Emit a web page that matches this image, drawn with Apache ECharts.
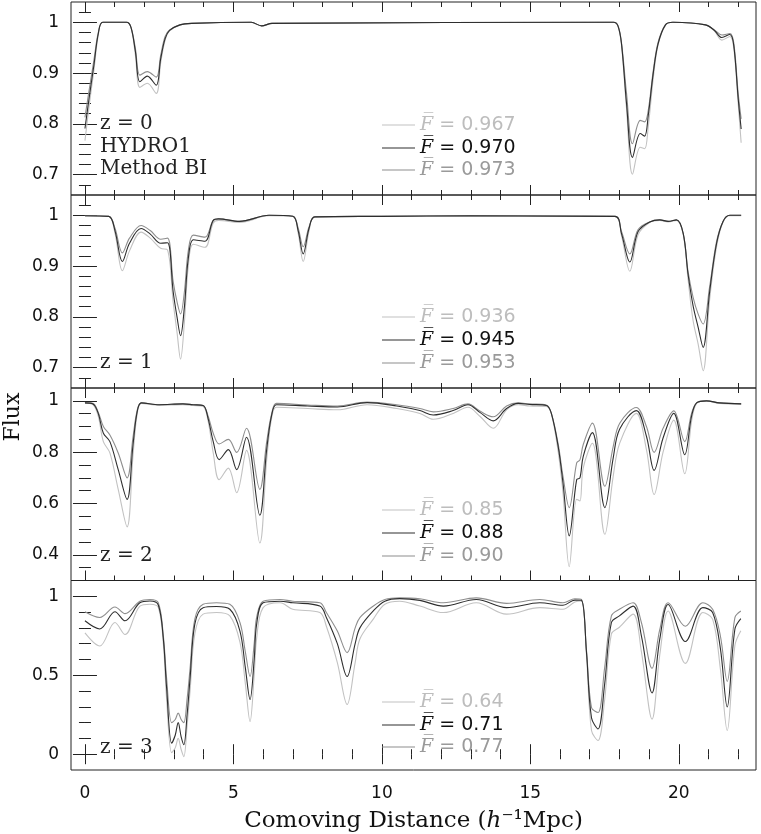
<!DOCTYPE html>
<html><head><meta charset="utf-8">
<script src="https://cdn.jsdelivr.net/npm/echarts@6/dist/echarts.min.js"></script>
<style>html,body{margin:0;padding:0;background:#fff}#c{width:761px;height:834px}</style>
</head><body><div id="c"></div>
<script>
// ---------- DATA ----------
// Panel z=0
const x1 = [0,0.15,0.3,0.45,0.6,1.4,1.55,1.7,1.85,2.1,2.4,2.55,2.7,2.85,3.2,3.6,5.6,5.95,6.3,17.8,17.95,18.07,18.24,18.44,18.7,18.85,18.97,19.14,19.3,19.55,19.8,20.9,21.2,21.45,21.72,21.85,22.0,22.1];
const l1 = [0.767,0.84,0.905,0.975,1.0,1.0,0.99,0.935,0.872,0.880,0.860,0.92,0.965,0.983,0.995,0.998,1.0,0.993,0.998,1.0,0.992,0.955,0.83,0.701,0.754,0.751,0.794,0.89,0.955,0.994,1.0,0.995,0.983,0.965,0.972,0.95,0.84,0.763];
const d1 = [0.791,0.855,0.915,0.978,1.0,1.0,0.99,0.942,0.883,0.894,0.876,0.928,0.968,0.984,0.995,0.998,1.0,0.993,0.998,1.0,0.993,0.958,0.84,0.734,0.781,0.776,0.816,0.9,0.957,0.995,1.0,0.995,0.984,0.97,0.976,0.955,0.85,0.79];
const m1 = [0.813,0.87,0.925,0.98,1.0,1.0,0.99,0.948,0.896,0.903,0.892,0.935,0.972,0.985,0.995,0.998,1.0,0.993,0.998,1.0,0.994,0.96,0.86,0.761,0.807,0.804,0.826,0.905,0.96,0.995,1.0,0.995,0.985,0.975,0.978,0.96,0.86,0.81];
// Panel z=1
const x2 = [0,0.8,1.01,1.26,1.5,1.89,2.2,2.55,2.78,2.97,3.1,3.22,3.35,3.48,3.65,4.04,4.32,4.5,5.2,6.2,7.0,7.18,7.35,7.55,7.74,10,13,17.85,18.07,18.35,18.63,19.02,19.36,19.64,19.92,20.15,20.31,20.48,20.65,20.82,21.04,21.27,21.49,21.72,22.1];
const l2 = [0.999,0.998,0.965,0.891,0.93,0.967,0.955,0.935,0.932,0.83,0.77,0.717,0.79,0.9,0.943,0.937,0.985,0.99,0.986,0.999,0.998,0.965,0.909,0.97,0.997,0.998,0.999,0.998,0.96,0.890,0.962,0.986,0.99,0.987,0.99,0.962,0.875,0.793,0.747,0.694,0.835,0.938,0.987,0.999,0.999];
const d2 = [0.999,0.998,0.97,0.909,0.945,0.974,0.963,0.945,0.946,0.85,0.8,0.763,0.82,0.915,0.952,0.949,0.99,0.993,0.988,1.0,0.998,0.97,0.924,0.975,0.997,0.998,0.999,0.998,0.964,0.908,0.968,0.987,0.991,0.988,0.991,0.964,0.885,0.822,0.780,0.740,0.85,0.944,0.988,1.0,1.0];
const m2 = [0.999,0.998,0.975,0.926,0.955,0.98,0.97,0.953,0.955,0.87,0.83,0.806,0.85,0.93,0.961,0.957,0.99,0.993,0.988,1.0,0.998,0.975,0.938,0.978,0.997,0.998,0.999,0.998,0.968,0.924,0.972,0.987,0.991,0.988,0.991,0.964,0.89,0.839,0.806,0.786,0.86,0.948,0.988,1.0,1.0];
// Panel z=2
const x3 = [0,0.27,0.45,0.62,0.84,1.12,1.42,1.62,1.76,1.9,2.5,3.3,3.64,3.98,4.15,4.32,4.52,4.83,5.11,5.44,5.89,6.12,6.29,6.45,7.5,8.5,9.5,10.5,11.28,11.73,12.4,12.9,13.3,13.75,14.2,14.59,14.98,15.54,15.71,15.94,16.1,16.31,16.56,16.67,16.78,17.09,17.51,17.79,18.01,18.57,18.91,19.17,19.47,19.83,20.2,20.43,20.6,20.93,21.37,22.1];
const l3 = [0.992,0.985,0.94,0.841,0.797,0.655,0.509,0.79,0.95,0.99,0.982,0.985,0.982,0.978,0.92,0.797,0.693,0.738,0.642,0.807,0.446,0.77,0.935,0.975,0.97,0.965,0.985,0.97,0.951,0.928,0.951,0.975,0.94,0.893,0.965,0.985,0.98,0.978,0.948,0.8,0.642,0.354,0.616,0.61,0.738,0.835,0.48,0.706,0.835,0.951,0.81,0.635,0.8,0.925,0.716,0.92,0.99,1.0,0.99,0.988];
const d3 = [0.992,0.988,0.95,0.874,0.841,0.732,0.616,0.83,0.958,0.992,0.985,0.988,0.985,0.982,0.93,0.841,0.771,0.81,0.732,0.858,0.554,0.81,0.945,0.985,0.98,0.976,0.993,0.98,0.962,0.945,0.962,0.985,0.955,0.922,0.97,0.99,0.986,0.982,0.95,0.82,0.68,0.474,0.693,0.7,0.783,0.876,0.584,0.777,0.89,0.962,0.862,0.729,0.855,0.951,0.79,0.94,0.992,1.0,0.992,0.988];
const m3 = [0.992,0.99,0.955,0.9,0.867,0.797,0.7,0.86,0.964,0.992,0.985,0.988,0.985,0.982,0.94,0.874,0.832,0.85,0.799,0.893,0.655,0.84,0.951,0.99,0.984,0.98,0.995,0.985,0.97,0.957,0.97,0.988,0.96,0.938,0.98,0.992,0.988,0.984,0.951,0.83,0.706,0.584,0.758,0.77,0.829,0.913,0.667,0.822,0.913,0.974,0.9,0.799,0.893,0.961,0.841,0.951,0.992,1.0,0.992,0.988];
// Panel z=3
const x4 = [0,0.5,1.01,1.35,1.85,2.19,2.47,2.64,2.75,2.92,3.04,3.14,3.24,3.33,3.44,3.54,3.7,3.98,4.43,4.88,5.22,5.4,5.56,5.7,5.78,6.0,6.57,7.0,7.91,8.13,8.5,8.83,9.1,9.26,9.71,10.1,10.6,11.28,12.07,13.18,14.2,15.32,16.1,16.5,16.72,16.89,17.06,17.28,17.5,17.73,18.0,18.46,18.74,19.1,19.36,19.64,20.22,20.81,21.14,21.4,21.63,21.89,22.09];
const l4 = [0.768,0.685,0.834,0.758,0.938,0.95,0.93,0.7,0.35,0.01,0.04,0.1,0.03,-0.015,0.18,0.4,0.762,0.887,0.897,0.876,0.71,0.45,0.207,0.5,0.73,0.928,0.959,0.918,0.897,0.81,0.58,0.315,0.58,0.73,0.855,0.95,0.969,0.938,0.897,0.959,0.887,0.928,0.918,0.964,0.97,0.63,0.15,0.087,0.34,0.762,0.804,0.887,0.65,0.222,0.63,0.907,0.575,0.897,0.855,0.54,0.15,0.689,0.782];
const d4 = [0.845,0.793,0.902,0.845,0.959,0.97,0.945,0.73,0.42,0.07,0.12,0.2,0.11,0.06,0.25,0.48,0.824,0.928,0.935,0.918,0.78,0.55,0.346,0.6,0.82,0.959,0.969,0.959,0.938,0.866,0.7,0.492,0.7,0.8,0.907,0.969,0.985,0.974,0.938,0.98,0.928,0.959,0.943,0.976,0.975,0.648,0.23,0.16,0.44,0.834,0.876,0.938,0.75,0.388,0.73,0.948,0.714,0.928,0.897,0.67,0.299,0.793,0.859];
const m4 = [0.902,0.866,0.932,0.89,0.969,0.98,0.959,0.75,0.48,0.2,0.22,0.26,0.22,0.2,0.35,0.544,0.855,0.949,0.959,0.949,0.834,0.65,0.492,0.7,0.865,0.969,0.98,0.969,0.959,0.897,0.78,0.643,0.8,0.865,0.938,0.98,0.99,0.984,0.959,0.99,0.955,0.98,0.959,0.984,0.98,0.66,0.295,0.264,0.544,0.876,0.918,0.959,0.834,0.544,0.79,0.959,0.81,0.959,0.918,0.75,0.461,0.865,0.907];

const meanF = [['0.967','0.970','0.973'],['0.936','0.945','0.953'],['0.85','0.88','0.90'],['0.64','0.71','0.77']];
const panelNotes = [['z = 0','HYDRO1','Method BI'],['z = 1'],['z = 2'],['z = 3']];
const xMajor = [0,5,10,15,20];
const xMinor = [1,2,3,4,6,7,8,9,11,12,13,14,16,17,18,19,21,22];
const yRange = [[0.66,1.04],[0.66,1.04],[0.3,1.05],[-0.1,1.1]];
const yMajor = [[0.7,0.8,0.9,1],[0.7,0.8,0.9,1],[0.4,0.6,0.8,1],[0,0.5,1]];
const yMinor = [
  [0.68,0.72,0.74,0.76,0.78,0.82,0.84,0.86,0.88,0.92,0.94,0.96,0.98,1.02],
  [0.68,0.72,0.74,0.76,0.78,0.82,0.84,0.86,0.88,0.92,0.94,0.96,0.98,1.02],
  [0.35,0.45,0.5,0.55,0.65,0.7,0.75,0.85,0.9,0.95],
  [0.1,0.2,0.3,0.4,0.6,0.7,0.8,0.9]
];
const xTitleParts = ['Comoving Distance (', 'h', '⁻¹Mpc)'];
const yTitle = 'Flux';

// ---------- LAYOUT / STYLE ----------
const X_MIN = -0.47, X_MAX = 22.6;
const gridLeft = 71, gridWidth = 685;
const gridTop = [2, 195, 388, 580.5];
const gridH = [193, 193, 192.5, 192.5];
const legendRows = [[125,148,170],[317,340,363],[510,533,556],[702,725,747]];
const noteRows = [[125,148,170],[364],[557],[749]];
const lineColors = ['#c2c2c2','#2e2e2e','#8e8e8e'];
const textColors = ['#bdbdbd','#111111','#9a9a9a'];
const FRAME = '#222';
const TICKFONT = 'DejaVu Sans';

const panels = [
  {x:x1, ys:[l1,d1,m1]},
  {x:x2, ys:[l2,d2,m2]},
  {x:x3, ys:[l3,d3,m3]},
  {x:x4, ys:[l4,d4,m4]}
];

const grids = [], xAxes = [], yAxes = [], series = [], legends = [], graphics = [];

function xAx(i, pos, vals, len, lab) {
  const a = {
    gridIndex: i, type: 'value', min: X_MIN, max: X_MAX, position: pos,
    axisLine: {show: false}, splitLine: {show: false},
    axisTick: {show: true, inside: true, length: len, customValues: vals, lineStyle: {color: FRAME, width: 1}},
    axisLabel: {show: lab, customValues: xMajor, margin: 15, color: '#111', fontFamily: TICKFONT, fontSize: 17},
    axisPointer: {show: false}
  };
  if (lab) {
    a.name = '{t|' + xTitleParts[0] + '}{i|' + xTitleParts[1] + '}{t|' + xTitleParts[2] + '}';
    a.nameLocation = 'middle';
    a.nameGap = 40;
    a.nameTextStyle = {fontFamily: 'DejaVu Serif', fontSize: 23, color: '#111',
      rich: {t: {fontFamily: 'DejaVu Serif', fontSize: 23, color: '#111'},
             i: {fontFamily: 'DejaVu Serif', fontStyle: 'italic', fontSize: 23, color: '#111'}}};
  }
  return a;
}
function yAx(i, pos, vals, len, lab) {
  return {
    gridIndex: i, type: 'value', min: yRange[i][0], max: yRange[i][1], position: pos,
    axisLine: {show: false}, splitLine: {show: false},
    axisTick: {show: true, inside: true, length: len, customValues: vals, lineStyle: {color: FRAME, width: 1}},
    axisLabel: {show: lab, customValues: yMajor[i], margin: 12, color: '#111', fontFamily: TICKFONT, fontSize: 17},
    axisPointer: {show: false}
  };
}

for (let i = 0; i < 4; i++) {
  grids.push({left: gridLeft, width: gridWidth, top: gridTop[i], height: gridH[i], show: true, borderColor: FRAME, borderWidth: 1, backgroundColor: 'transparent'});
  xAxes.push(xAx(i, 'bottom', xMajor, 10, i === 3));
  xAxes.push(xAx(i, 'bottom', xMinor, 5, false));
  xAxes.push(xAx(i, 'top', xMajor, 10, false));
  xAxes.push(xAx(i, 'top', xMinor, 5, false));
  yAxes.push(yAx(i, 'left', yMajor[i], 12, true));
  yAxes.push(yAx(i, 'left', yMinor[i], 6, false));
  yAxes.push(yAx(i, 'right', yMajor[i], 12, false));
  yAxes.push(yAx(i, 'right', yMinor[i], 6, false));
  const p = panels[i];
  for (let k = 0; k < 3; k++) {
    series.push({
      type: 'line', name: meanF[i][k], xAxisIndex: i*4, yAxisIndex: i*4,
      data: p.x.map((xv, j) => [xv, p.ys[k][j]]),
      showSymbol: false, symbol: 'none', smooth: 0.35, clip: true,
      color: lineColors[k],
      lineStyle: {color: lineColors[k], width: 1.1},
      itemStyle: {color: lineColors[k]},
      z: k === 1 ? 4 : 3,
      silent: true, animation: false
    });
    legends.push({
      data: [{name: meanF[i][k], textStyle: {color: textColors[k]}}],
      left: 382, top: legendRows[i][k] - 11, icon: 'rect', itemWidth: 33, itemHeight: 1.2,
      selectedMode: false, padding: 0,
      formatter: n => '{f|F\u0305} = ' + n,
      textStyle: {fontFamily: 'DejaVu Sans', fontSize: 19, lineHeight: 22,
        rich: {f: {fontFamily: 'DejaVu Serif', fontStyle: 'italic', fontSize: 19, lineHeight: 22}}}
    });
  }
  panelNotes[i].forEach((t, r) => {
    graphics.push({type: 'text', left: 100, top: noteRows[i][r] - 11,
      style: {text: t, font: '20px "DejaVu Serif"', fill: '#222'}});
  });
}
graphics.push({type: 'text', x: 13, y: 417, rotation: Math.PI/2,
  style: {text: yTitle, font: '22px "DejaVu Serif"', fill: '#111', align: 'center', verticalAlign: 'middle'}});

const chart = echarts.init(document.getElementById('c'), null, {renderer: 'canvas'});
chart.setOption({
  animation: false,
  backgroundColor: '#fff',
  grid: grids, xAxis: xAxes, yAxis: yAxes, series: series, legend: legends, graphic: graphics
});
</script></body></html>
